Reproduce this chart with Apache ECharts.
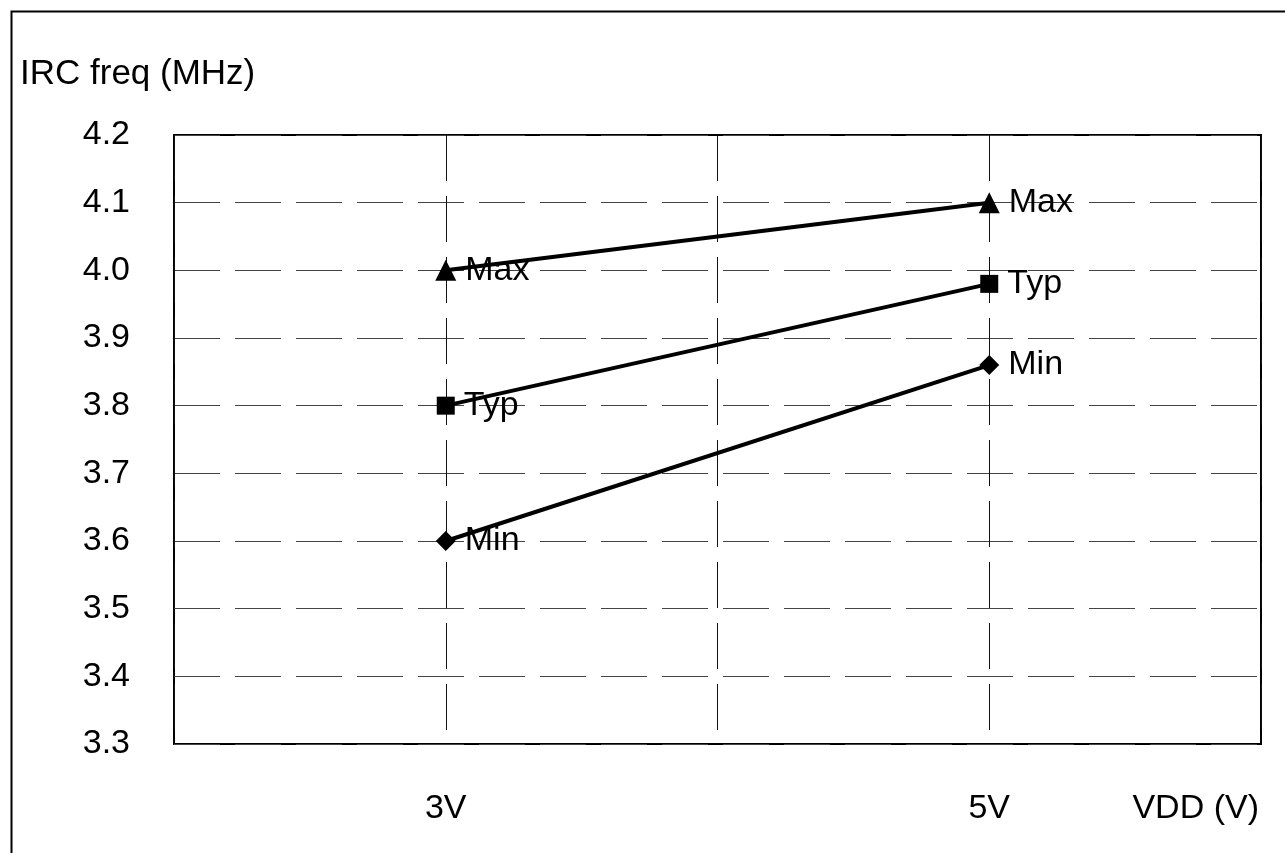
<!DOCTYPE html>
<html>
<head>
<meta charset="utf-8">
<script src="https://cdn.jsdelivr.net/npm/echarts@6/dist/echarts.min.js"></script>
<style>
html,body{margin:0;padding:0;background:#fff;}
#chart{width:1285px;height:853px;}
</style>
</head>
<body>
<div id="chart"></div>
<script>
// x positions (value axis 0..4) and their tick labels
var xPositions = [1, 3];
var xTickLabels = ['', '3V', '', '5V', ''];
var seriesNames = ['Max', 'Typ', 'Min'];
var maxValues = [4.0, 4.1];
var typValues = [3.8, 3.98];
var minValues = [3.6, 3.86];
var yTicks = [3.3, 3.4, 3.5, 3.6, 3.7, 3.8, 3.9, 4.0, 4.1, 4.2];

var FONT = 'Liberation Sans, Arial, sans-serif';

function pairs(vals) {
  return xPositions.map(function (x, i) { return [x, vals[i]]; });
}

function mkSeries(name, vals, symbol, size) {
  return {
    name: name,
    type: 'line',
    data: pairs(vals),
    symbol: symbol,
    symbolSize: size,
    itemStyle: { color: '#000' },
    lineStyle: { color: '#000', width: 4 },
    label: {
      show: true,
      position: 'right',
      distance: 9,
      formatter: name,
      color: '#000',
      fontSize: 34,
      fontFamily: FONT
    },
    z: 5,
    animation: false
  };
}

var chart = echarts.init(document.getElementById('chart'));
chart.setOption({
  backgroundColor: '#fff',
  animation: false,
  grid: {
    left: 174, top: 135, right: 24, bottom: 109,
    show: true, borderColor: '#000', borderWidth: 2, backgroundColor: 'transparent'
  },
  graphic: [
    {
      type: 'rect', left: 9, top: 9,
      shape: { x: 0, y: 0, width: 1400, height: 1000 },
      style: { fill: 'none', stroke: '#000', lineWidth: 2 },
      z: -1
    },
    {
      type: 'text', left: 20, top: 57,
      style: { text: 'IRC freq (MHz)', fill: '#000', fontSize: 35, fontFamily: FONT }
    },
    {
      type: 'text', right: 26, top: 792,
      style: { text: 'VDD (V)', fill: '#000', fontSize: 34, fontFamily: FONT }
    }
  ],
  xAxis: {
    type: 'value',
    min: 0, max: 4, interval: 1,
    axisLine: { show: false },
    axisTick: { show: false },
    axisLabel: {
      margin: 48,
      color: '#000', fontSize: 34, fontFamily: FONT,
      formatter: function (v) { return xTickLabels[Math.round(v)] || ''; }
    },
    splitLine: { show: true, lineStyle: { color: '#111', width: 1, type: [46, 15] } }
  },
  yAxis: {
    type: 'value',
    min: yTicks[0], max: yTicks[yTicks.length - 1], interval: 0.1,
    axisLine: { show: false },
    axisTick: { show: false },
    axisLabel: {
      margin: 44,
      color: '#000', fontSize: 34, fontFamily: FONT,
      formatter: function (v) { return v.toFixed(1); }
    },
    splitLine: { show: true, lineStyle: { color: '#444', width: 1, type: [46, 15] } }
  },
  series: [
    mkSeries(seriesNames[0], maxValues, 'triangle', 21),
    mkSeries(seriesNames[1], typValues, 'rect', 18),
    mkSeries(seriesNames[2], minValues, 'diamond', 20)
  ]
});
</script>
</body>
</html>
